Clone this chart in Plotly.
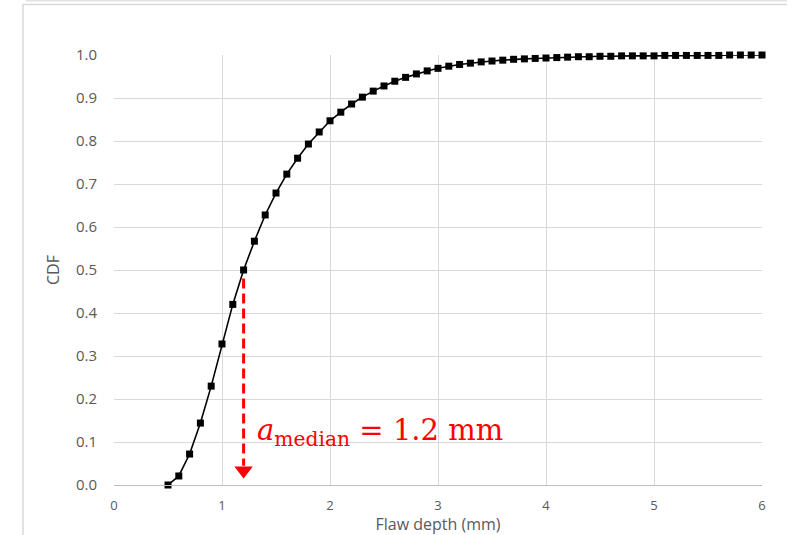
import plotly.graph_objects as go

# Flaw depth (mm) and cumulative distribution values
depth_mm = [round(0.5 + 0.1 * i, 1) for i in range(56)]
cdf = [
    0.000, 0.021, 0.072, 0.144, 0.230, 0.328, 0.420, 0.500, 0.567, 0.628,
    0.679, 0.723, 0.760, 0.793, 0.821, 0.847, 0.867, 0.886, 0.902, 0.916,
    0.928, 0.939, 0.948, 0.956, 0.963, 0.969, 0.974, 0.978, 0.981, 0.984,
    0.986, 0.988, 0.990, 0.991, 0.992, 0.993, 0.994, 0.995, 0.996, 0.996,
    0.997, 0.997, 0.998, 0.998, 0.998, 0.998, 0.999, 0.999, 0.999, 0.999,
    0.999, 0.999, 1.000, 1.000, 1.000, 1.000,
]
median_depth = 1.2
median_cdf = 0.5

x_ticks = [0, 1, 2, 3, 4, 5, 6]
y_ticks = [round(0.1 * i, 1) for i in range(11)]

grid = "#d9d9d9"
label_gray = "#595959"
red = "#ff0000"

fig = go.Figure()
fig.add_trace(go.Scatter(
    x=depth_mm, y=cdf, mode="lines+markers",
    line=dict(color="black", width=1.6),
    marker=dict(symbol="square", size=7, color="black"),
    showlegend=False, cliponaxis=False, hoverinfo="skip",
))

# Dashed drop line from the median point down to the depth axis
fig.add_shape(type="line", xref="x", yref="y",
              x0=median_depth, x1=median_depth, y0=median_cdf - 0.02, y1=0.045,
              line=dict(color=red, width=3, dash="10px,5px"))
# Arrowhead at the foot of the drop line
fig.add_trace(go.Scatter(
    x=[median_depth], y=[0.034], mode="markers",
    marker=dict(symbol="triangle-down", size=16, color=red, line=dict(width=0)),
    showlegend=False, cliponaxis=False, hoverinfo="skip",
))
fig.add_annotation(x=1.31, y=0.123, xref="x", yref="y", xanchor="left", yanchor="middle",
                   text="<i>a</i><sub>median</sub> = 1.2 mm", showarrow=False,
                   font=dict(family="DejaVu Serif", size=29, color=red))

# Outer chart frame
fig.add_shape(type="rect", xref="paper", yref="paper",
              x0=-0.1404, x1=1.2, y0=-0.3, y1=1.1176,
              line=dict(color=grid, width=1.5), layer="below")
fig.add_shape(type="line", xref="paper", yref="paper",
              x0=-0.136, x1=1.2, y0=1.128, y1=1.128,
              line=dict(color="#e3e3e3", width=3), layer="below")

fig.update_xaxes(range=[0, 6], tickvals=x_ticks, ticktext=[str(v) for v in x_ticks],
                 showgrid=True, gridcolor=grid, gridwidth=1, automargin=False,
                 zeroline=False, showline=True, linecolor="#bfbfbf", linewidth=1,
                 ticks="", ticklabelstandoff=8,
                 tickfont=dict(family="Open Sans", size=13, color=label_gray),
                 title=dict(text="Flaw depth (mm)", standoff=6,
                            font=dict(family="Open Sans", size=16, color=label_gray)))
fig.update_yaxes(range=[0, 1], tickvals=y_ticks, tickformat=".1f",
                 showgrid=True, gridcolor=grid, gridwidth=1, automargin=False,
                 zeroline=False, showline=False, ticks="", ticklabelstandoff=16,
                 tickfont=dict(family="Open Sans", size=15, color=label_gray),
                 title=dict(text="CDF", standoff=12,
                            font=dict(family="Open Sans", size=16, color=label_gray)))

fig.update_layout(
    width=787, height=535,
    margin=dict(l=114, r=25, t=55, b=50),
    paper_bgcolor="white", plot_bgcolor="white",
)

fig.write_html("out.html")
